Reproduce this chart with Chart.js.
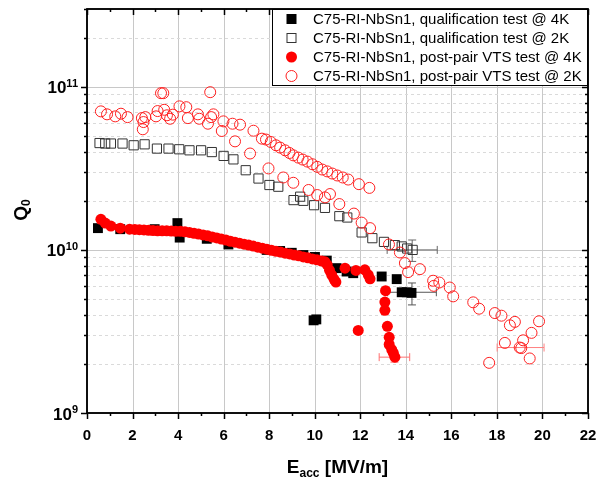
<!DOCTYPE html>
<html>
<head>
<meta charset="utf-8">
<title>Q0 vs Eacc</title>
<script src="https://cdn.jsdelivr.net/npm/chart.js@4.4.1/dist/chart.umd.min.js"></script>
<style>
    html, body { margin: 0; padding: 0; background: #fff; }
    #wrap { width: 603px; height: 483px; }
</style>
</head>
<body>
<div id="wrap"><canvas id="q0Chart"></canvas></div>
<script>
// Values (E in MV/m, Q0 dimensionless)

// qualification test @ 4K (filled black squares)
const qual4K_E = [0.48, 1.46, 2.97, 3.97, 4.07, 5.26, 6.21, 7.89, 8.48, 8.99, 9.5, 10.01, 10.53,
    10.96, 11.4, 11.69, 12.94, 13.6, 13.82, 14.04, 14.25, 9.95, 10.07];
const qual4K_Q = [1.36e10, 1.34e10, 1.34e10, 1.46e10, 1.19e10, 1.17e10, 1.08e10, 1.0e10, 9.85e9, 9.6e9, 9.3e9, 9.05e9, 8.6e9,
    7.73e9, 7.37e9, 7.2e9, 6.87e9, 6.62e9, 5.5e9, 5.5e9, 5.45e9, 3.7e9, 3.75e9];

// qualification test @ 2K (open squares)
const qual2K_E = [0.55, 0.80, 1.05, 1.56, 2.05, 2.53, 3.07, 3.58, 4.05, 4.5, 5.01, 5.48, 6.0, 6.43,
    6.97, 7.53, 8.01, 8.4, 9.07, 9.36, 9.5, 9.97, 10.45, 11.08, 11.43, 12.06, 12.53, 13.04,
    13.52, 13.82, 14.06, 14.3];
const qual2K_Q = [4.52e10, 4.49e10, 4.49e10, 4.49e10, 4.38e10, 4.44e10, 4.18e10, 4.18e10, 4.14e10, 4.08e10, 4.08e10, 3.98e10, 3.77e10, 3.59e10,
    3.08e10, 2.74e10, 2.5e10, 2.44e10, 2.02e10, 2.12e10, 2.0e10, 1.88e10, 1.81e10, 1.61e10, 1.58e10, 1.28e10, 1.18e10, 1.12e10,
    1.07e10, 1.05e10, 1.02e10, 1.0e10];

// post-pair VTS test @ 4K (filled red circles)
const vts4K_E = [0.61, 0.80, 1.05, 1.46, 1.87, 2.1, 2.3, 2.5, 2.7, 2.9, 3.1, 3.3, 3.5, 3.7, 3.9, 4.1,
    4.3, 4.5, 4.7, 4.9, 5.1, 5.3, 5.5, 5.7, 5.9, 6.1, 6.3, 6.5, 6.7, 6.9, 7.1, 7.3, 7.5, 7.7,
    7.9, 8.1, 8.3, 8.5, 8.7, 8.9, 9.1, 9.3, 9.5, 9.7, 9.9, 10.1, 10.3, 10.45, 10.55, 10.65,
    10.75, 10.85, 10.93, 11.33, 11.81, 12.2, 12.35, 12.43, 11.91, 13.11, 13.08, 13.08, 13.19,
    13.27, 13.27, 13.38, 13.45, 13.52];
const vts4K_Q = [1.54e10, 1.46e10, 1.40e10, 1.36e10, 1.34e10, 1.335e10, 1.33e10, 1.325e10, 1.32e10, 1.315e10, 1.31e10, 1.31e10, 1.31e10, 1.305e10, 1.30e10, 1.30e10,
    1.29e10, 1.28e10, 1.265e10, 1.25e10, 1.235e10, 1.22e10, 1.20e10, 1.185e10, 1.165e10, 1.15e10, 1.13e10, 1.115e10, 1.10e10, 1.085e10, 1.07e10, 1.055e10, 1.04e10, 1.025e10,
    1.01e10, 9.95e9, 9.8e9, 9.7e9, 9.55e9, 9.45e9, 9.3e9, 9.2e9, 9.05e9, 8.95e9, 8.8e9, 8.7e9, 8.55e9, 8.45e9, 8.1e9, 7.5e9,
    7.0e9, 6.6e9, 6.35e9, 7.73e9, 7.48e9, 7.55e9, 7.04e9, 6.65e9, 3.21e9, 5.62e9, 4.79e9, 4.26e9, 3.4e9,
    2.91e9, 2.63e9, 2.45e9, 2.34e9, 2.2e9];

// post-pair VTS test @ 2K (open red circles)
const vts2K_E = [0.61, 0.88, 1.24, 1.49, 1.78, 2.41, 2.56, 2.48, 2.45, 3.03, 3.10, 3.25, 3.35, 3.39,
    3.51, 3.65, 3.77, 4.06, 4.36, 4.43, 4.87, 4.93, 5.31, 5.41, 5.45, 5.55, 5.99, 5.92, 6.39,
    6.72, 6.5, 7.31, 7.16, 7.68, 7.86, 8.07, 8.30, 8.48, 8.70, 8.89, 9.06, 9.28, 9.47, 9.68,
    9.9, 10.11, 10.33, 10.55, 10.77, 10.99, 11.23, 11.47, 11.94, 12.4, 7.97, 8.62, 9.06, 9.73,
    10.11, 10.45, 10.67, 11.08, 11.72, 12.06, 12.43, 13.26, 13.74, 13.96, 14.1, 14.62, 15.2,
    15.47, 15.23, 15.93, 16.08, 16.96, 17.22, 17.91, 18.2, 18.57, 18.79, 19.85, 19.52, 19.15,
    18.35, 19.0, 19.07, 19.44, 17.66];
const vts2K_Q = [7.07e10, 6.78e10, 6.59e10, 6.84e10, 6.52e10, 6.43e10, 6.52e10, 6.08e10, 5.49e10, 6.59e10, 7.1e10, 9.14e10, 9.14e10, 7.23e10,
    6.69e10, 6.37e10, 6.75e10, 7.59e10, 7.5e10, 6.43e10, 6.78e10, 6.37e10, 5.94e10, 9.27e10, 6.52e10, 6.78e10, 6.14e10, 5.36e10, 5.94e10,
    5.86e10, 4.63e10, 5.38e10, 3.9e10, 4.81e10, 4.75e10, 4.59e10, 4.38e10, 4.24e10, 4.08e10, 3.93e10, 3.8e10, 3.68e10, 3.58e10, 3.48e10,
    3.35e10, 3.23e10, 3.11e10, 3.03e10, 2.94e10, 2.86e10, 2.78e10, 2.7e10, 2.53e10, 2.4e10, 3.16e10, 2.78e10, 2.58e10, 2.33e10,
    2.17e10, 2.1e10, 2.2e10, 1.91e10, 1.67e10, 1.47e10, 1.36e10, 1.08e10, 9.64e9, 8.3e9, 7.31e9, 7.62e9, 6.47e9,
    6.31e9, 6.02e9, 5.88e9, 5.19e9, 4.77e9, 4.36e9, 4.1e9, 3.95e9, 3.45e9, 3.62e9, 3.65e9, 3.1e9, 2.79e9,
    2.69e9, 2.52e9, 2.5e9, 2.16e9, 2.03e9];

// error bars: one per series (qual 2K, qual 4K, VTS 4K, VTS 2K)
const errE = [14.28, 14.27, 13.5, 19.04];
const errQ = [1.0e10, 5.5e9, 2.2e9, 2.52e9];
const errDE = [1.1, 1.07, 0.67, 1.03];
const errQlo = [8.5e9, 4.6e9, 2.05e9, null];
const errQhi = [1.15e10, 6.27e9, 2.35e9, null];
const errColors = ['#666', '#555', '#ff7070', '#ff8080'];

// axis ticks
const xTicks = [0, 2, 4, 6, 8, 10, 12, 14, 16, 18, 20, 22];
const yDecades = [9, 10, 11];

const legendLabels = [
    'C75-RI-NbSn1, qualification test @ 4K',
    'C75-RI-NbSn1, qualification test @ 2K',
    'C75-RI-NbSn1, post-pair VTS test @ 4K',
    'C75-RI-NbSn1, post-pair VTS test @ 2K'
];

const FONT = '"Liberation Sans", Arial, sans-serif';

function pts(xs, ys) {
    return xs.map((x, i) => ({ x: x, y: ys[i] }));
}

function line(ctx, x1, y1, x2, y2) {
    ctx.beginPath();
    ctx.moveTo(x1, y1);
    ctx.lineTo(x2, y2);
    ctx.stroke();
}

/**
 * Origin-like frame: grid, error bars, ticks, labels, titles and legend box
 */
const originAxes = {
    id: 'originAxes',
    beforeDatasetsDraw(chart) {
        const { ctx, chartArea: a, scales: { x, y } } = chart;
        ctx.save();
        ctx.lineWidth = 1;

        // vertical grid lines
        ctx.strokeStyle = '#c8c8c8';
        xTicks.forEach(v => {
            if (v === 0 || v === 22) return;
            const px = Math.round(x.getPixelForValue(v)) + 0.5;
            line(ctx, px, a.top, px, a.bottom);
        });

        // horizontal grid lines: solid at decades, dashed in between
        for (let d = 9; d <= 11; d++) {
            for (let m = 1; m <= 9; m++) {
                const v = m * Math.pow(10, d);
                if (v <= 1e9 || v >= 3e11) continue;
                const py = Math.round(y.getPixelForValue(v)) + 0.5;
                if (m === 1) {
                    ctx.setLineDash([]);
                    ctx.strokeStyle = '#c8c8c8';
                } else {
                    ctx.setLineDash([3, 3]);
                    ctx.strokeStyle = '#dadada';
                }
                line(ctx, a.left, py, a.right, py);
            }
        }
        ctx.setLineDash([]);

        // error bars
        errE.forEach((e, i) => {
            ctx.strokeStyle = errColors[i];
            const py = y.getPixelForValue(errQ[i]);
            const x1 = x.getPixelForValue(e - errDE[i]);
            const x2 = x.getPixelForValue(e + errDE[i]);
            line(ctx, x1, py, x2, py);
            line(ctx, x1, py - 4, x1, py + 4);
            line(ctx, x2, py - 4, x2, py + 4);
            if (errQlo[i] !== null) {
                const px = x.getPixelForValue(e);
                const y1 = y.getPixelForValue(errQhi[i]);
                const y2 = y.getPixelForValue(errQlo[i]);
                line(ctx, px, y1, px, y2);
                line(ctx, px - 4, y1, px + 4, y1);
                line(ctx, px - 4, y2, px + 4, y2);
            }
        });
        ctx.restore();
    },
    afterDatasetsDraw(chart) {
        const { ctx, chartArea: a, scales: { x, y } } = chart;
        ctx.save();

        // frame
        ctx.strokeStyle = '#000';
        ctx.lineWidth = 1.5;
        ctx.strokeRect(a.left, a.top, a.right - a.left, a.bottom - a.top);

        // x ticks: out at bottom, in at top
        for (let v = 0; v <= 22; v++) {
            const px = Math.round(x.getPixelForValue(v)) + 0.5;
            const len = v % 2 === 0 ? 6 : 3;
            line(ctx, px, a.bottom, px, a.bottom + len);
            line(ctx, px, a.top, px, a.top + len);
        }
        // y ticks: out at left, in at right
        for (let d = 9; d <= 11; d++) {
            for (let m = 1; m <= 9; m++) {
                const v = m * Math.pow(10, d);
                if (v < 1e9 || v > 3e11) continue;
                const py = Math.round(y.getPixelForValue(v)) + 0.5;
                const len = m === 1 ? 6 : 3;
                line(ctx, a.left - len, py, a.left, py);
                line(ctx, a.right - len, py, a.right, py);
            }
        }

        // x tick labels
        ctx.fillStyle = '#000';
        ctx.font = 'bold 15px ' + FONT;
        ctx.textAlign = 'center';
        ctx.textBaseline = 'alphabetic';
        xTicks.forEach(v => {
            ctx.fillText(String(v), x.getPixelForValue(v), a.bottom + 27);
        });

        // y tick labels 10^n
        yDecades.forEach(d => {
            const py = y.getPixelForValue(Math.pow(10, d));
            ctx.font = 'bold 11px ' + FONT;
            const sup = String(d);
            const supW = ctx.measureText(sup).width;
            ctx.textAlign = 'right';
            ctx.fillText(sup, a.left - 9, py);
            ctx.font = 'bold 17px ' + FONT;
            ctx.fillText('10', a.left - 9 - supW, py + 6.5);
        });

        // y title: Q0
        ctx.save();
        ctx.translate(27, 210);
        ctx.rotate(-Math.PI / 2);
        ctx.textAlign = 'left';
        ctx.font = 'bold 19px ' + FONT;
        const qW = ctx.measureText('Q').width;
        ctx.font = 'bold 12px ' + FONT;
        const zW = ctx.measureText('0').width;
        const start = -(qW + zW) / 2;
        ctx.font = 'bold 19px ' + FONT;
        ctx.fillText('Q', start, 0);
        ctx.font = 'bold 12px ' + FONT;
        ctx.fillText('0', start + qW, 3);
        ctx.restore();

        // x title: Eacc [MV/m]
        ctx.textAlign = 'left';
        ctx.font = 'bold 19px ' + FONT;
        const eW = ctx.measureText('E').width;
        const unitW = ctx.measureText(' [MV/m]').width;
        ctx.font = 'bold 12px ' + FONT;
        const accW = ctx.measureText('acc').width;
        let tx = (a.left + a.right) / 2 - (eW + accW + unitW) / 2;
        ctx.font = 'bold 19px ' + FONT;
        ctx.fillText('E', tx, 473);
        ctx.font = 'bold 12px ' + FONT;
        ctx.fillText('acc', tx + eW, 477);
        ctx.font = 'bold 19px ' + FONT;
        ctx.fillText(' [MV/m]', tx + eW + accW, 473);

        // legend box
        const lx = 272, ly = a.top, lw = a.right - 272, lh = 86 - a.top;
        ctx.fillStyle = '#fff';
        ctx.fillRect(lx, ly, lw, lh);
        ctx.lineWidth = 1;
        ctx.strokeStyle = '#000';
        ctx.strokeRect(lx + 0.5, ly + 0.5, lw - 1, lh - 1);
        ctx.lineWidth = 1.5;
        ctx.strokeRect(a.left, a.top, a.right - a.left, a.bottom - a.top);

        const rows = [19, 38, 57, 76];
        const mx = 291.5;
        ctx.lineWidth = 1;
        // filled square
        ctx.fillStyle = '#000';
        ctx.fillRect(mx - 5, rows[0] - 5, 10, 10);
        // open square
        ctx.strokeStyle = '#333';
        ctx.strokeRect(mx - 4.5, rows[1] - 4.5, 9, 9);
        // filled circle
        ctx.fillStyle = '#ff0000';
        ctx.beginPath();
        ctx.arc(mx, rows[2], 5.5, 0, Math.PI * 2);
        ctx.fill();
        // open circle
        ctx.strokeStyle = '#ff2020';
        ctx.beginPath();
        ctx.arc(mx, rows[3], 5.5, 0, Math.PI * 2);
        ctx.stroke();

        ctx.fillStyle = '#000';
        ctx.font = '15px ' + FONT;
        ctx.textAlign = 'left';
        ctx.textBaseline = 'middle';
        legendLabels.forEach((t, i) => ctx.fillText(t, 313, rows[i] + 1));

        ctx.restore();
    }
};

document.addEventListener('DOMContentLoaded', function() {
    const ctx = document.getElementById('q0Chart');

    new Chart(ctx, {
        type: 'scatter',
        data: {
            datasets: [
                {
                    label: legendLabels[3],
                    data: pts(vts2K_E, vts2K_Q),
                    pointStyle: 'circle',
                    pointRadius: 5.5,
                    pointHoverRadius: 5.5,
                    pointBackgroundColor: 'rgba(0,0,0,0)',
                    pointBorderColor: '#ff2020',
                    pointBorderWidth: 1,
                    order: 0
                },
                {
                    label: legendLabels[2],
                    data: pts(vts4K_E, vts4K_Q),
                    pointStyle: 'circle',
                    pointRadius: 5.5,
                    pointHoverRadius: 5.5,
                    pointBackgroundColor: '#ff0000',
                    pointBorderWidth: 0,
                    order: 1
                },
                {
                    label: legendLabels[1],
                    data: pts(qual2K_E, qual2K_Q),
                    pointStyle: 'rect',
                    pointRadius: 6.5,
                    pointHoverRadius: 6.5,
                    pointBackgroundColor: 'rgba(0,0,0,0)',
                    pointBorderColor: '#333',
                    pointBorderWidth: 1,
                    order: 2
                },
                {
                    label: legendLabels[0],
                    data: pts(qual4K_E, qual4K_Q),
                    pointStyle: 'rect',
                    pointRadius: 7,
                    pointHoverRadius: 7,
                    pointBackgroundColor: '#000',
                    pointBorderWidth: 0,
                    order: 3
                }
            ]
        },
        options: {
            responsive: true,
            maintainAspectRatio: false,
            animation: false,
            layout: {
                padding: { left: 87, top: 9, right: 15, bottom: 70 }
            },
            plugins: {
                legend: { display: false },
                tooltip: { displayColors: false }
            },
            scales: {
                x: { type: 'linear', min: 0, max: 22, display: false },
                y: { type: 'logarithmic', min: 1e9, max: 3e11, display: false }
            }
        },
        plugins: [originAxes]
    });
});
</script>
</body>
</html>
